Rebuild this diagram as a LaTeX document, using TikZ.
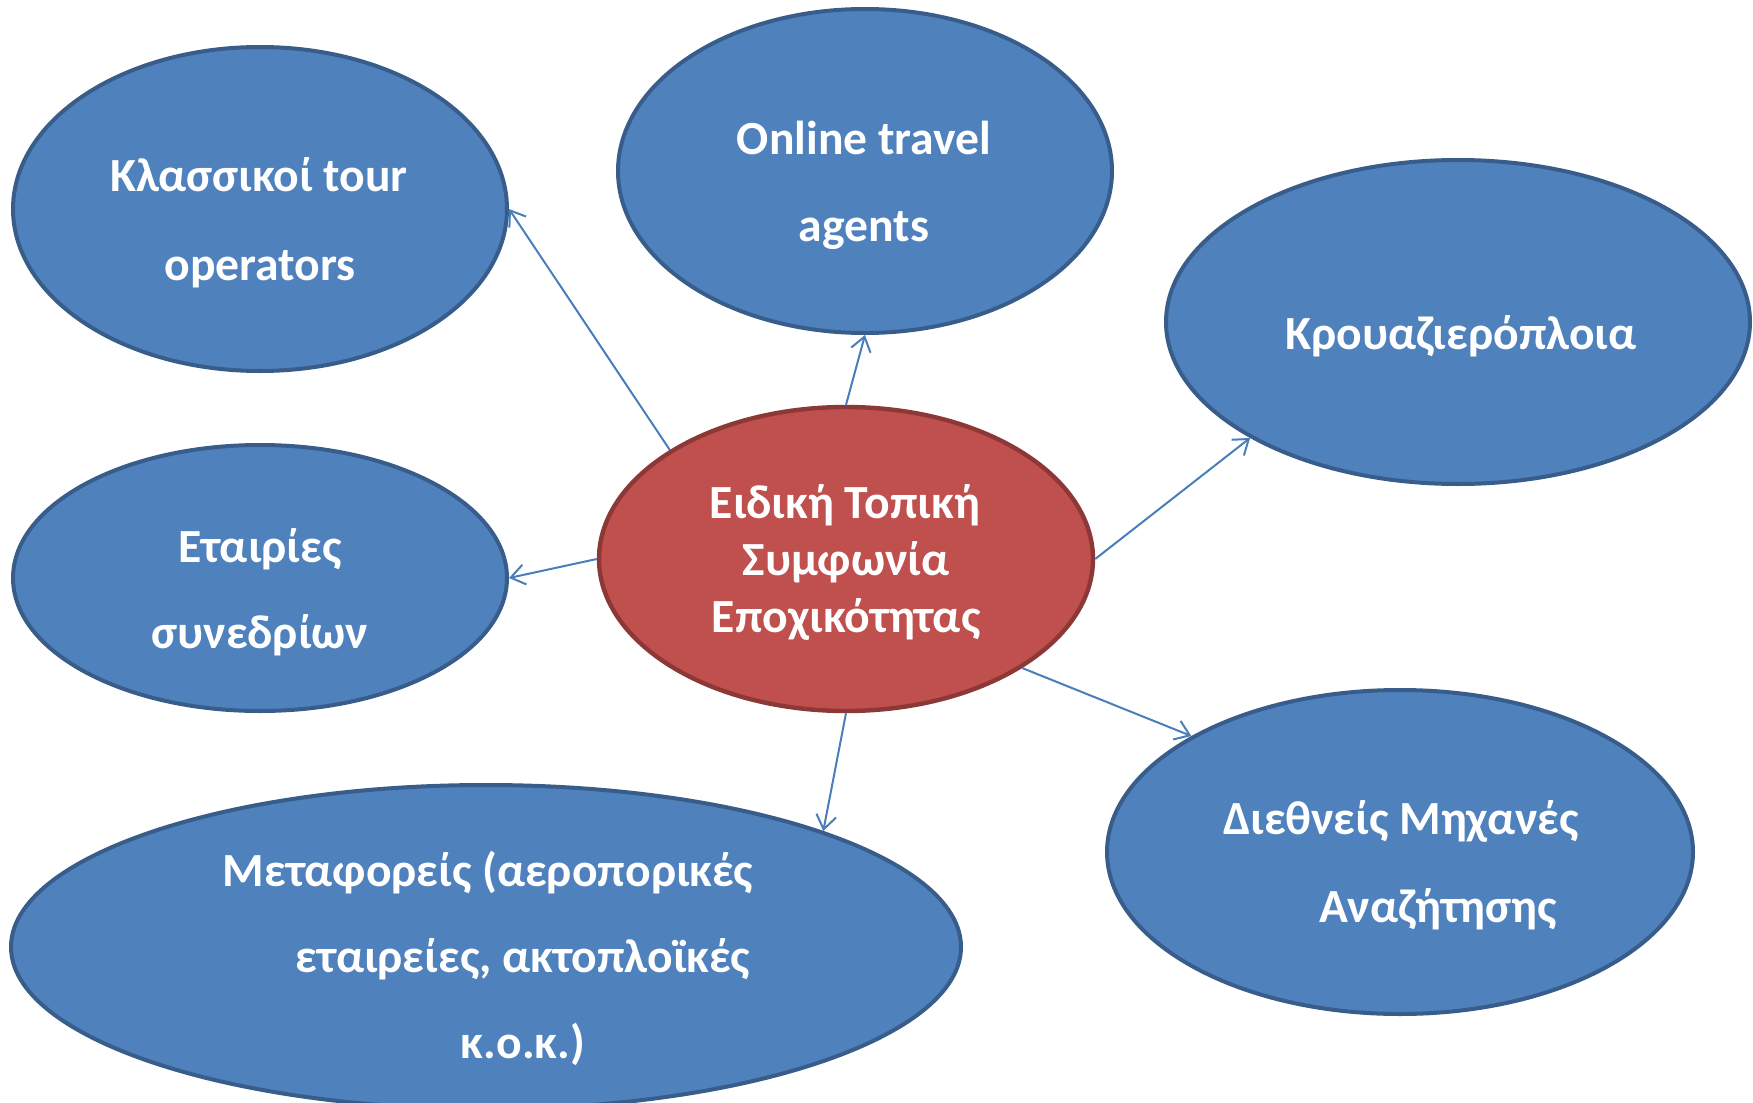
\documentclass[tikz,border=0pt]{standalone}
\usepackage{fontspec}
\setmainfont{Carlito}
\usetikzlibrary{arrows.meta,shapes.geometric}
\definecolor{bfill}{HTML}{4F81BD}
\definecolor{bline}{HTML}{385D8A}
\definecolor{rfill}{HTML}{C0504D}
\definecolor{rline}{HTML}{8C3836}
\definecolor{aline}{HTML}{4A7EBB}
\tikzset{
  bell/.style={ellipse, draw=bline, fill=bfill, line width=2pt, inner sep=0pt},
  rell/.style={ellipse, draw=rline, fill=rfill, line width=2.2pt, inner sep=0pt},
  txt/.style={anchor=base, inner sep=0pt, text=white, font=\fontsize{23.8pt}{28pt}\selectfont\bfseries},
  conn/.style={draw=aline, line width=1pt, -{Straight Barb[length=7pt,width=10pt,line width=1pt]}}
}
\begin{document}
\begin{tikzpicture}[x=0.5pt,y=-0.5pt]
\useasboundingbox (0,0) rectangle (1753,1103);
\clip (0,0) rectangle (1753,1103);
\node[bell, minimum width=475pt, minimum height=162pt] (m) at (486,947) {};
\node[bell, minimum width=247pt, minimum height=162pt] (k) at (260,209) {};
\node[bell, minimum width=247pt, minimum height=162pt] (o) at (865,171) {};
\node[bell, minimum width=292pt, minimum height=162pt] (kr) at (1458,322) {};
\node[bell, minimum width=247pt, minimum height=133pt] (e) at (260,578) {};
\node[bell, minimum width=293pt, minimum height=162pt] (d) at (1400,852) {};
\node[rell, minimum width=247pt, minimum height=152pt] (c) at (846,559) {};
% texts
\node[txt] (k1) at (259,191) {Κλασσικοί tour};
\node[txt] (k2) at (260,280) {operators};
\node[txt] (o1) at (864,154) {Online travel};
\node[txt] (o2) at (864,241) {agents};
\node[txt] (kr1) at (1461,349) {Κρουαζιερόπλοια};
\node[txt] (e1) at (260,562) {Εταιρίες};
\node[txt] (e2) at (260,648) {συνεδρίων};
\node[txt] (c1) at (845,518) {Ειδική Τοπική};
\node[txt] (c2) at (846,575) {Συμφωνία};
\node[txt] (c3) at (846,632) {Εποχικότητας};
\node[txt] (m1) at (488,886) {Μεταφορείς (αεροπορικές};
\node[txt] (m2) at (523,972) {εταιρείες, ακτοπλοϊκές};
\node[txt] (m3) at (523,1058) {κ.ο.κ.)};
\node[txt] (d1) at (1401,834) {Διεθνείς Μηχανές};
\node[txt] (d2) at (1438,922) {Αναζήτησης};
% connectors
\draw[conn] (c.north west) -- (k.east);
\draw[conn] (c.north) -- (o.south);
\draw[conn] (c.east) -- (kr.south west);
\draw[conn] (c.west) -- (e.east);
\draw[conn] (c.south) -- (m.north east);
\draw[conn] (c.south east) -- (d.north west);
\end{tikzpicture}
\end{document}
